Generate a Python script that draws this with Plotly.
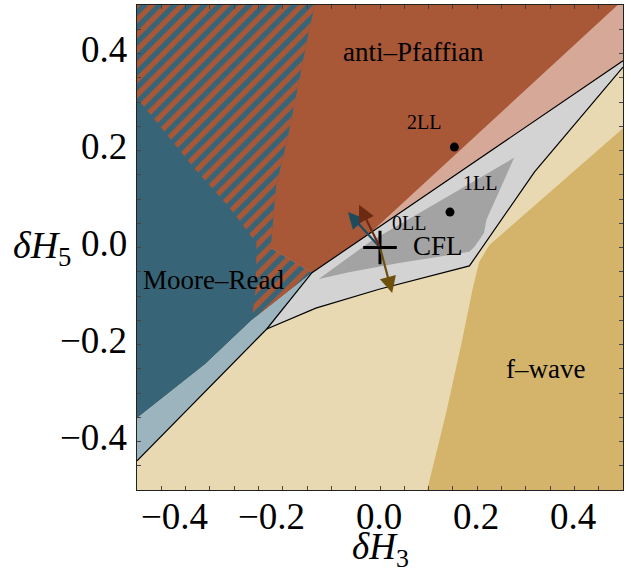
import plotly.graph_objects as go

# ---- phase regions in the (δH3, δH5) plane, polygon vertices ----
fwave_x = [0.097, 0.136, 0.169, 0.190, 0.204, 0.225, 0.500, 0.500]
fwave_y = [-0.500, -0.341, -0.191, -0.088, -0.030, 0.005, 0.246, -0.500]

mr_x = [-0.500, -0.126, -0.225, -0.140, -0.264, -0.359, -0.500]
mr_y = [0.500, 0.500, -0.001, -0.052, -0.150, -0.240, -0.352]

coex_x = [-0.500, -0.134, -0.146, -0.161, -0.188, -0.214, -0.225, -0.140,
          -0.264, -0.256, -0.254, -0.311, -0.379, -0.500]
coex_y = [0.500, 0.500, 0.448, 0.372, 0.236, 0.125, -0.001, -0.052,
          -0.150, -0.088, 0.009, 0.084, 0.160, 0.308]

apf_x = [-0.134, 0.500, 0.500, -0.140, -0.225, -0.214, -0.188, -0.161, -0.146]
apf_y = [0.500, 0.500, 0.385, -0.052, -0.001, 0.125, 0.236, 0.372, 0.448]

apf_weak_x = [-0.140, 0.500, 0.500, 0.489, -0.033]
apf_weak_y = [-0.052, 0.385, 0.500, 0.500, 0.018]

mr_weak_x = [-0.500, -0.359, -0.264, -0.140, -0.233, -0.500]
mr_weak_y = [-0.352, -0.240, -0.150, -0.052, -0.168, -0.440]

cfl_x = [-0.233, -0.140, 0.500, 0.500, 0.318, 0.184, -0.002, -0.132]
cfl_y = [-0.168, -0.052, 0.385, 0.372, 0.156, -0.038, -0.086, -0.125]

cfl_core_x = [-0.126, -0.019, 0.276, 0.219, 0.214, 0.194, 0.184, 0.039, -0.064]
cfl_core_y = [-0.065, 0.013, 0.185, 0.057, 0.030, 0.001, -0.009, -0.032, -0.051]

# phase boundary lines
edge_a_x = [-0.500, -0.233, -0.140, 0.500]
edge_a_y = [-0.440, -0.168, -0.052, 0.385]
edge_b_x = [-0.233, -0.132, -0.002, 0.184, 0.318, 0.500]
edge_b_y = [-0.168, -0.125, -0.086, -0.038, 0.156, 0.372]

# Landau-level points
ll_names = ["1LL", "2LL"]
ll_x = [0.144, 0.153]
ll_y = [0.073, 0.207]

# perturbation directions from the origin
arrow_dx = [-0.066, -0.043, 0.025]
arrow_dy = [0.073, 0.088, -0.094]
arrow_colors = ["#1f4b5e", "#6d2a12", "#6e500d"]

tick_vals = [-0.4, -0.2, 0.0, 0.2, 0.4]
tick_text = ["\u22120.4", "\u22120.2", "0.0", "0.2", "0.4"]

BEIGE = "#e8d9b3"
GOLD = "#d4b46a"
BLUE = "#376577"
LBLUE = "#9bb4bd"
RUST = "#a85737"
SALMON = "#d6a898"
LGRAY = "#d3d3d3"
DGRAY = "#a3a3a3"
SERIF = "Liberation Serif"

fig = go.Figure()


def region(x, y, color, pattern=None):
    kw = dict(x=x, y=y, fill="toself", fillcolor=color, mode="lines",
              line=dict(width=0, color=color), hoverinfo="skip", showlegend=False)
    if pattern:
        kw["fillpattern"] = pattern
    fig.add_trace(go.Scatter(**kw))


region(fwave_x, fwave_y, GOLD)
region(mr_x, mr_y, BLUE)
region(coex_x, coex_y, BLUE,
       dict(shape="/", fgcolor=RUST, bgcolor=BLUE, fgopacity=1,
            fillmode="replace", size=10.6, solidity=0.5))
region(apf_x, apf_y, RUST)
region(apf_weak_x, apf_weak_y, SALMON)
region(mr_weak_x, mr_weak_y, LBLUE)
region(cfl_x, cfl_y, LGRAY)
region(cfl_core_x, cfl_core_y, DGRAY)

for ex, ey in [(edge_a_x, edge_a_y), (edge_b_x, edge_b_y)]:
    fig.add_trace(go.Scatter(x=ex, y=ey, mode="lines",
                             line=dict(color="black", width=1.2),
                             hoverinfo="skip", showlegend=False))

fig.add_trace(go.Scatter(x=ll_x, y=ll_y, mode="markers",
                         marker=dict(color="black", size=9),
                         hoverinfo="skip", showlegend=False))

# perturbation arrows
for dx, dy, c in zip(arrow_dx, arrow_dy, arrow_colors):
    fig.add_annotation(x=dx, y=dy, ax=0, ay=0, xref="x", yref="y",
                       axref="x", ayref="y", text="", showarrow=True,
                       arrowhead=2, arrowsize=1.5, arrowwidth=2.2,
                       arrowcolor=c, standoff=0, startstandoff=0)

fig.add_trace(go.Scatter(x=[0], y=[0], mode="markers",
                         marker=dict(symbol="cross-thin", size=24,
                                     line=dict(color="black", width=3)),
                         hoverinfo="skip", showlegend=False))

labels = [
    ("anti\u2013Pfaffian", 0.068, 0.403, 27),
    ("Moore\u2013Read", -0.342, -0.067, 27),
    ("f\u2013wave", 0.340, -0.250, 27),
    ("CFL", 0.120, 0.003, 27),
    ("0LL", 0.060, 0.050, 20),
    ("1LL", 0.206, 0.133, 20),
    ("2LL", 0.091, 0.259, 20),
]
for txt, lx, ly, fs in labels:
    fig.add_annotation(x=lx, y=ly, xref="x", yref="y", text=txt, showarrow=False,
                       font=dict(family=SERIF, size=fs, color="black"))

# tick labels: the digits sit centred on the tick, a minus sign hangs to the left
tick_font = dict(family=SERIF, size=37, color="black")
for v, t in zip(tick_vals, tick_text):
    fig.add_annotation(x=v, y=-0.054, xref="x", yref="paper", text=t,
                       showarrow=False, xanchor="right", yanchor="middle",
                       xshift=23, borderpad=0, font=tick_font)
    fig.add_annotation(x=-0.0185, y=v, xref="paper", yref="y", text=t,
                       showarrow=False, xanchor="right", yanchor="middle",
                       yshift=4, borderpad=0, font=tick_font)

fig.add_annotation(x=0.0, y=-0.122, xref="x", yref="paper",
                   text="<i>δH</i><sub>3</sub>", showarrow=False,
                   xanchor="center", yanchor="middle", borderpad=0,
                   font=dict(family=SERIF, size=37, color="black"))
fig.add_annotation(x=-0.134, y=0.0, xref="paper", yref="y",
                   text="<i>δH</i><sub>5</sub>", showarrow=False,
                   xanchor="right", yanchor="middle", borderpad=0,
                   font=dict(family=SERIF, size=38, color="black"))

axis_common = dict(
    tickvals=tick_vals, showticklabels=False, ticks="inside", ticklen=4,
    tickcolor="#444", tickwidth=1, showline=True, linecolor="#222",
    linewidth=1, mirror="ticks", showgrid=False, zeroline=False,
    minor=dict(ticks="inside", dtick=0.05, ticklen=4, tickcolor="#444",
               showgrid=False),
)
fig.update_xaxes(range=[-0.5, 0.5], **axis_common)
fig.update_yaxes(range=[-0.5, 0.5], **axis_common)

fig.update_layout(
    width=631, height=571, autosize=False,
    margin=dict(l=137, r=8, t=5, b=81),
    plot_bgcolor=BEIGE, paper_bgcolor="white",
)

fig.write_html("out.html")
